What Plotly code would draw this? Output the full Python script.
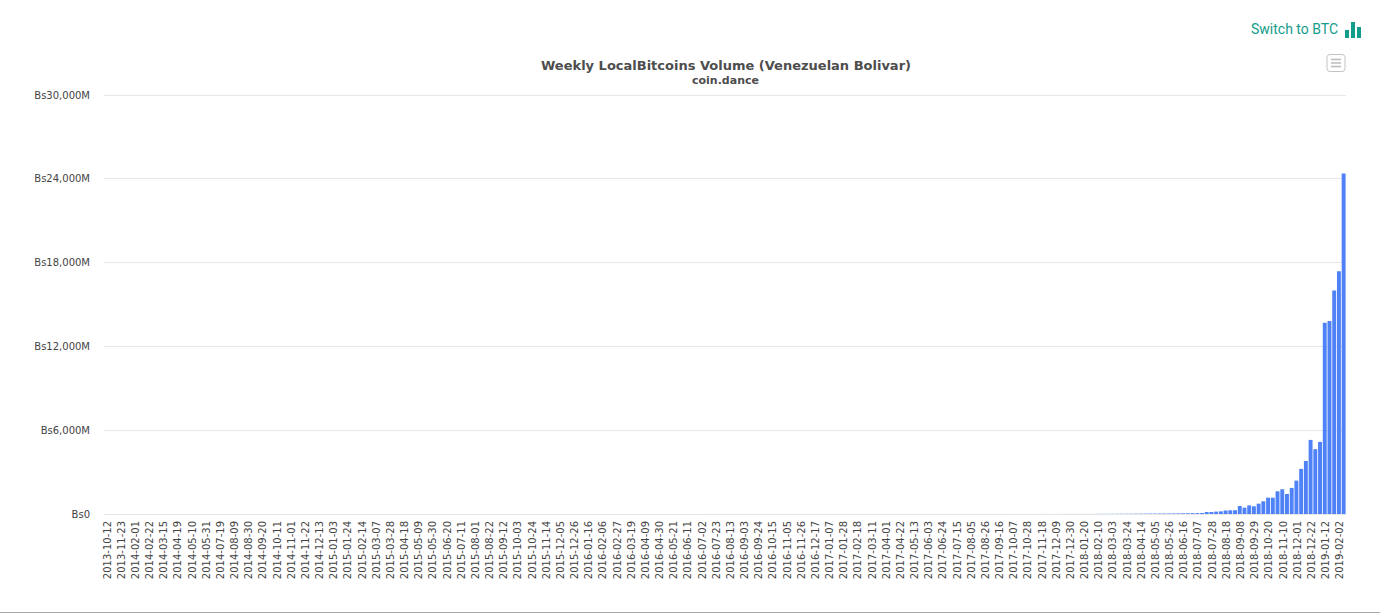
import plotly.graph_objects as go

# every third week is labelled on the axis
tick_labels = [
    "2013-10-12", "2013-11-23", "2014-02-01", "2014-02-22", "2014-03-15", "2014-04-19",
    "2014-05-10", "2014-05-31", "2014-07-19", "2014-08-09", "2014-08-30", "2014-09-20",
    "2014-10-11", "2014-11-01", "2014-11-22", "2014-12-13", "2015-01-03", "2015-01-24",
    "2015-02-14", "2015-03-07", "2015-03-28", "2015-04-18", "2015-05-09", "2015-05-30",
    "2015-06-20", "2015-07-11", "2015-08-01", "2015-08-22", "2015-09-12", "2015-10-03",
    "2015-10-24", "2015-11-14", "2015-12-05", "2015-12-26", "2016-01-16", "2016-02-06",
    "2016-02-27", "2016-03-19", "2016-04-09", "2016-04-30", "2016-05-21", "2016-06-11",
    "2016-07-02", "2016-07-23", "2016-08-13", "2016-09-03", "2016-09-24", "2016-10-15",
    "2016-11-05", "2016-11-26", "2016-12-17", "2017-01-07", "2017-01-28", "2017-02-18",
    "2017-03-11", "2017-04-01", "2017-04-22", "2017-05-13", "2017-06-03", "2017-06-24",
    "2017-07-15", "2017-08-05", "2017-08-26", "2017-09-16", "2017-10-07", "2017-10-28",
    "2017-11-18", "2017-12-09", "2017-12-30", "2018-01-20", "2018-02-10", "2018-03-03",
    "2018-03-24", "2018-04-14", "2018-05-05", "2018-05-26", "2018-06-16", "2018-07-07",
    "2018-07-28", "2018-08-18", "2018-09-08", "2018-09-29", "2018-10-20", "2018-11-10",
    "2018-12-01", "2018-12-22", "2019-01-12", "2019-02-02",
]

# weekly volume in millions of bolivar, too small to see before 2018
volume_early = [
    0.1, 0.1, 0.1, 0.1, 0.1, 0.1, 0.1, 0.1, 0.1, 0.1, 0.1, 0.1, 0.1, 0.1, 0.1, 0.1, 0.1, 0.1, 0.1, 0.1,
    0.1, 0.1, 0.1, 0.1, 0.1, 0.1, 0.1, 0.1, 0.1, 0.1, 0.1, 0.1, 0.1, 0.1, 0.1, 0.1, 0.1, 0.1, 0.1, 0.1,
    0.1, 0.1, 0.1, 0.1, 0.1, 0.1, 0.1, 0.1, 0.1, 0.1, 0.1, 0.1, 0.1, 0.1, 0.1, 0.1, 0.1, 0.1, 0.1, 0.1,
    0.1, 0.1, 0.1, 0.1, 0.1, 0.1, 0.1, 0.1, 0.1, 0.1, 0.2, 0.2, 0.2, 0.2, 0.2, 0.2, 0.2, 0.2, 0.2, 0.2,
    0.2, 0.2, 0.2, 0.2, 0.2, 0.2, 0.2, 0.2, 0.2, 0.2, 0.3, 0.3, 0.3, 0.3, 0.3, 0.3, 0.3, 0.3, 0.3, 0.3,
    0.3, 0.3, 0.3, 0.3, 0.3, 0.3, 0.3, 0.3, 0.3, 0.3, 0.3, 0.3, 0.3, 0.3, 0.3, 0.4, 0.4, 0.4, 0.4, 0.4,
    0.4, 0.4, 0.4, 0.4, 0.4, 0.4, 0.4, 0.4, 0.5, 0.5, 0.5, 0.5, 0.5, 0.5, 0.5, 0.5, 0.5, 0.5, 0.5, 0.6,
    0.6, 0.6, 0.6, 0.6, 0.6, 0.6, 0.7, 0.7, 0.7, 0.7, 0.7, 0.7, 0.8, 0.8, 0.8, 0.8, 0.8, 0.9, 0.9, 0.9,
    0.9, 0.9, 1.0, 1.0, 1.0, 1.0, 1.1, 1.1, 1.1, 1.2, 1.2, 1.2, 1.3, 1.3, 1.3, 1.4, 1.4, 1.5, 1.5, 1.6,
    1.6, 1.7, 1.7, 1.8, 1.8, 1.9, 1.9, 2.0, 2.0, 2.1, 2.1, 2.2, 2.3, 2.3, 2.4, 2.5, 2.5, 2.6, 2.7, 2.8,
]
volume_2018 = [
    3, 3, 3, 4, 4, 4, 5, 5, 6, 6,
    11, 12, 13, 14, 16, 17, 19, 21, 23, 26,
    30, 32, 34, 36, 38, 40, 42, 45, 50, 55,
    60, 65, 70, 80, 90, 170, 190, 250, 265, 270,
]
volume_late = [
    575, 455, 620, 550, 740, 910, 1170, 1170, 1625, 1770, 1435, 1865,
    2390, 3230, 3800, 5305, 4640, 5160, 13695, 13810, 16010, 17375, 24375,
]
volume = volume_early + volume_2018 + volume_late

y_ticks = [0, 6000, 12000, 18000, 24000, 30000]
y_tick_labels = ["Bs0", "Bs6,000M", "Bs12,000M", "Bs18,000M", "Bs24,000M", "Bs30,000M"]

W = 1380
H = 614
TEAL = "#119c8c"

# plot area in page pixels, two pixels of headroom or plotly drops the 30,000M gridline
L, R, T, B = 104, 34, 93, 100
plot_w = W - L - R
plot_h = H - T - B
y_top = 30000 * plot_h / (plot_h - 2)
bs_per_px = y_top / plot_h


def sx(v):
    return (v - L) / plot_w


def sy(v):
    return (H - B - v) / plot_h


shapes = []
# little bar icon next to the switch link
for x0, x1, top in [(1345, 1349, 30), (1351, 1355, 22), (1357, 1361, 27)]:
    shapes.append(dict(type="rect", xref="paper", yref="paper", layer="above",
                       x0=sx(x0), x1=sx(x1), y0=sy(38), y1=sy(top),
                       fillcolor=TEAL, line_width=0))
# export menu button, rounded corners
bx0, bx1, by0, by1 = sx(1327), sx(1345), sy(71.5), sy(54.5)
rx = 3 / plot_w
ry = 3 / plot_h
button = (
    f"M {bx0 + rx} {by1} L {bx1 - rx} {by1} Q {bx1} {by1} {bx1} {by1 - ry} "
    f"L {bx1} {by0 + ry} Q {bx1} {by0} {bx1 - rx} {by0} "
    f"L {bx0 + rx} {by0} Q {bx0} {by0} {bx0} {by0 + ry} "
    f"L {bx0} {by1 - ry} Q {bx0} {by1} {bx0 + rx} {by1} Z"
)
shapes.append(dict(type="path", xref="paper", yref="paper", layer="above", path=button,
                   fillcolor="white", line=dict(color="#c4c4c4", width=1)))
for y in [59.5, 63, 66.5]:
    shapes.append(dict(type="line", xref="paper", yref="paper", layer="above",
                       x0=sx(1331), x1=sx(1341), y0=sy(y), y1=sy(y),
                       line=dict(color="#bbbbbb", width=1.5)))
# grey rule at the bottom of the page
shapes.append(dict(type="line", xref="paper", yref="paper", layer="above",
                   x0=sx(0), x1=sx(W), y0=sy(612.5), y1=sy(612.5),
                   line=dict(color="#a8a8a8", width=1.2)))

fig = go.Figure(go.Bar(
    x=list(range(len(volume))),
    y=volume,
    # plotly blows sub-pixel bars up to a full pixel, so fade them instead
    marker=dict(color="#4f82f7", line_width=0,
                opacity=[min(1, v / bs_per_px) for v in volume]),
))

fig.update_layout(
    width=W,
    height=H,
    margin=dict(l=L, r=R, t=T, b=B, autoexpand=False),
    paper_bgcolor="white",
    plot_bgcolor="white",
    bargap=0.17,
    showlegend=False,
    font=dict(family="DejaVu Sans", size=10, color="#444444"),
    shapes=shapes,
    title=dict(
        text="Weekly LocalBitcoins Volume (Venezuelan Bolivar)",
        x=726 / W, xanchor="center", xref="container",
        y=1 - 65 / H, yanchor="middle", yref="container",
        font=dict(family="DejaVu Sans", size=13, color="#4d4d4d", weight="bold"),
    ),
    annotations=[
        dict(text="<b>coin.dance</b>", xref="paper", yref="paper",
             x=sx(725.5), y=sy(81), xanchor="center", yanchor="middle", showarrow=False,
             font=dict(family="DejaVu Sans", size=11, color="#4d4d4d")),
        dict(text="Switch to BTC", xref="paper", yref="paper",
             x=sx(1340), y=sy(29), xanchor="right", yanchor="middle", showarrow=False,
             font=dict(family="Roboto", size=14, color=TEAL)),
    ],
)

fig.update_xaxes(
    range=[-0.5, len(volume) - 0.5],
    tickmode="array",
    tickvals=list(range(0, len(volume), 3)),
    ticktext=tick_labels,
    tickangle=-90,
    ticks="outside",
    ticklen=2,
    tickcolor="white",
    ticklabelshift=1,
    showgrid=False,
    showline=True,
    linecolor="#e6e6e6",
    linewidth=1,
    zeroline=False,
)
fig.update_yaxes(
    range=[0, y_top],
    tickmode="array",
    tickvals=y_ticks,
    ticktext=y_tick_labels,
    ticks="outside",
    ticklen=11,
    tickcolor="white",
    gridcolor="#e8e8e8",
    gridwidth=1,
    zeroline=False,
)

fig.write_html(
    "out.html",
    config={"displayModeBar": False},
    post_script="document.body.style.margin='0';document.body.style.overflow='hidden';",
)
